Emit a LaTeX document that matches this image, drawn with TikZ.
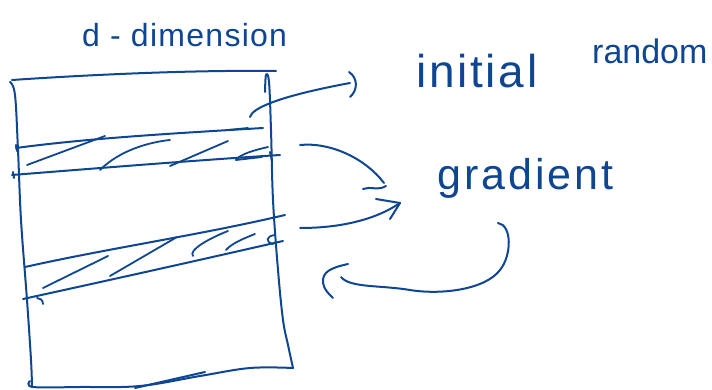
\documentclass[tikz,border=0pt]{standalone}
\usepackage{fontspec}
\setmainfont{Liberation Sans}
\definecolor{inkblue}{RGB}{14,70,146}
\begin{document}
\begin{tikzpicture}[x=1pt,y=-1pt,
  ink/.style={draw=inkblue, line width=2pt, line cap=round, line join=round},
  hatch/.style={ink, line width=1.8pt},
  label/.style={text=inkblue, inner sep=0pt, anchor=base west}]
\useasboundingbox (0,0) rectangle (712,390);

% labels
\node[label, font=\fontsize{32}{32}\selectfont\addfontfeatures{LetterSpace=4}] (dim) at (82,47) {d - dimension};
\node[label, font=\fontsize{46}{46}\selectfont\addfontfeatures{LetterSpace=6}] (init) at (416,88) {initial};
\node[label, font=\fontsize{34}{34}\selectfont] (rand) at (592,64) {random};
\node[label, font=\fontsize{43}{43}\selectfont\addfontfeatures{LetterSpace=7}] (grad) at (437,190) {gradient};

% matrix box
\draw[ink] (12,80) .. controls (100,74) and (200,70) .. (276,71);
\draw[ink] plot[smooth, tension=0.6] coordinates {(10,82) (15,95) (18,150) (21,220) (27,300) (31,360) (32,387)};
\draw[ink] plot[smooth, tension=0.6] coordinates {(265,92) (266,75) (269,82) (271,130) (273,200) (278,270) (283,320) (288,345) (293,368)};
\draw[ink] plot[smooth, tension=0.6] coordinates {(30,381) (33,387) (80,387) (140,386) (200,376) (250,368) (293,368)};
\draw[ink] (135,388) -- (205,372);

% upper stripe
\draw[ink] (16,148) .. controls (90,138) and (180,133) .. (263,128);
\draw[ink] (12,175) .. controls (100,168) and (200,160) .. (280,155);
\draw[ink] (16,145) -- (17,151);
\draw[ink] (13,172) -- (14,178);
\draw[ink] (270,152) -- (272,160);
\draw[hatch] (27,165) -- (105,136);
\draw[hatch] (100,170) .. controls (120,150) and (150,142) .. (170,140);
\draw[hatch] (170,166) -- (228,141);
\draw[hatch] (236,160) .. controls (240,154) and (255,150) .. (268,147);
\draw[hatch] (236,160) -- (262,157);
\draw[hatch] (228,130) -- (248,128);

% lower stripe
\draw[ink] (25,267) .. controls (110,248) and (200,235) .. (285,215);
\draw[ink] (23,299) .. controls (110,280) and (200,260) .. (283,241);
\draw[hatch] (43,288) -- (108,256);
\draw[hatch] (110,276) -- (177,237);
\draw[hatch] (193,256) .. controls (188,250) and (210,238) .. (228,231);
\draw[hatch] (226,250) .. controls (232,243) and (245,238) .. (255,234);
\draw[hatch] (273,244) .. controls (265,242) and (266,236) .. (275,235);
\draw[hatch] (37,298) .. controls (40,298) and (43,300) .. (43,304);

% arrow to "initial random"
\coordinate (a1s) at (250,117);
\coordinate (a1e) at (350,83);
\draw[ink] (a1s) .. controls (252,108) and (280,96) .. (a1e);
\draw[ink] (349,72) .. controls (358,78) and (358,90) .. (350,97);

% arrows to "gradient"
\coordinate (a2s) at (300,145);
\coordinate (a2e) at (384,183);
\draw[ink] (a2s) .. controls (330,142) and (365,158) .. (a2e);
\draw[ink] (363,189) .. controls (370,186) and (378,191) .. (386,186);
\coordinate (a3s) at (300,228);
\coordinate (a3e) at (400,203);
\draw[ink] (a3s) .. controls (340,228) and (375,220) .. (a3e);
\draw[ink] (376,199) -- (a3e) -- (390,219);

% return arrow
\coordinate (a4s) at (498,223);
\coordinate (a4e) at (341,277);
\draw[ink] (a4s) .. controls (512,225) and (512,255) .. (500,270)
  .. controls (485,290) and (440,295) .. (410,290)
  .. controls (380,285) and (350,288) .. (a4e);
\draw[ink] (348,264) .. controls (330,268) and (322,272) .. (323,283) .. controls (324,290) and (330,295) .. (333,298);
\end{tikzpicture}
\end{document}
